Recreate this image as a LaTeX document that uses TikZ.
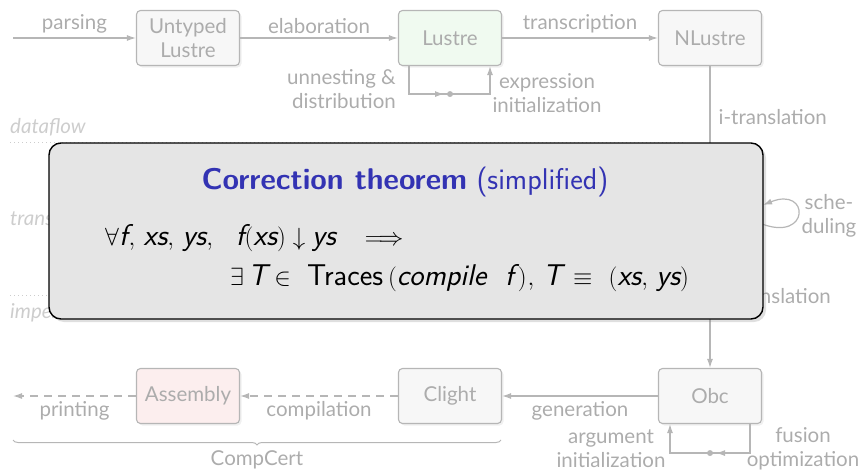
\documentclass[tikz,border=0pt]{standalone}
\usepackage{fontspec}
\setmainfont{Lato}
\usetikzlibrary{arrows.meta,shadows,decorations.pathreplacing,calc}
\definecolor{lbl}{RGB}{172,172,172}
\definecolor{faint}{RGB}{205,205,205}
\definecolor{edge}{RGB}{182,182,182}
\definecolor{boxfill}{RGB}{247,247,247}
\definecolor{greenfill}{RGB}{240,250,240}
\definecolor{pinkfill}{RGB}{252,238,238}
\definecolor{thmfill}{RGB}{229,229,229}
\definecolor{thmblue}{RGB}{51,51,179}
\newcommand\vv[1]{\textit{#1}}
\begin{document}
\begin{tikzpicture}[x=1pt,y=-1pt,
  labf/.style={font=\fontsize{20.5}{24}\selectfont},
  stage/.style={draw=edge, line width=1.1pt, rounded corners=4pt, fill=boxfill,
    minimum width=103pt, minimum height=55pt, align=center, text=lbl, labf,
    inner sep=2pt, drop shadow={opacity=0.12, shadow xshift=2pt, shadow yshift=-2pt}},
  lab/.style={text=lbl, labf, inner sep=2pt},
  side/.style={text=faint, font=\fontsize{20.5}{24}\selectfont\itshape, anchor=west, inner sep=0pt},
  ln/.style={draw=edge, line width=1.2pt},
  arr/.style={ln, -{Latex[length=9pt,width=6pt]}},
  dsh/.style={dash pattern=on 8pt off 6pt},
  thm/.style={draw=black, line width=1.4pt, rounded corners=12pt, fill=thmfill,
    minimum width=714pt, minimum height=176pt,
    drop shadow={opacity=0.25, shadow xshift=3pt, shadow yshift=-3pt}},
  thmtitlef/.style={font=\sffamily\fontsize{30}{34}\selectfont, inner sep=0pt},
  thmtxt/.style={font=\sffamily\fontsize{30}{34}\selectfont, inner sep=0pt}
]
\useasboundingbox (0,0) rectangle (859,471);

% layer labels
\node[side] (dataflow) at (10,127) {dataflow};
\node[side] (transys) at (10,218) {transition};
\node[side] (imper) at (10,313) {imperative};
\coordinate (d1a) at (10,142); \coordinate (d1b) at (683,142);
\coordinate (d2a) at (10,295); \coordinate (d2b) at (683,295);
\draw[faint, line width=1pt, dash pattern=on 1pt off 3pt] (d1a) -- (d1b);
\draw[faint, line width=1pt, dash pattern=on 1pt off 3pt] (d2a) -- (d2b);

% stages
\node[stage] (untyped) at (188,38) {Untyped\\Lustre};
\node[stage, fill=greenfill] (lustre) at (450,38) {Lustre};
\node[stage] (nlustre) at (710,38) {NLustre};
\node[stage] (stc) at (710,213) {Stc};
\node[stage] (obc) at (710,396) {Obc};
\node[stage] (clight) at (450,396) {Clight};
\node[stage, fill=pinkfill] (asm) at (188,396) {Assembly};
\coordinate (start) at (13,38);
\coordinate (finish) at (13,396);

% top row
\draw[arr] (start) -- node[lab, above=2pt] {parsing} (untyped);
\draw[arr] (untyped) -- node[lab, above=2pt] {elaboration} (lustre);
\draw[arr] (lustre) -- node[lab, above=2pt] {transcription} (nlustre);

% lustre loop
\coordinate (la) at ($(lustre.south)+(-41,0)$);
\coordinate (lb) at ($(lustre.south)+(40,0)$);
\coordinate (ldot) at ($(lustre.south)+(0,28)$);
\draw[ln] (la) |- (ldot);
\draw[arr] (la |- ldot) -- ($(ldot)+(-6,0)$);
\draw[arr] (ldot) -| (lb);
\fill[edge] (ldot) circle (3pt);
\node[lab, align=right, anchor=east] (unnest) at (398,89) {unnesting \&\\distribution};
\node[lab, align=center] (exprinit) at (547,93) {expression\\initialization};

% vertical chain
\draw[arr] (nlustre) -- node[lab, right=6pt, pos=0.43] {i-translation} (stc);
\draw[arr] (stc) -- node[lab, right=6pt, pos=0.43] {s-translation} (obc);
\coordinate (sl1) at ($(stc.east)+(0,11)$);
\coordinate (sl2) at ($(stc.east)+(1,-8)$);
\draw[arr] (sl1) .. controls (810,242) and (810,186) .. (sl2);
\node[lab, align=center] (sched) at (829,216) {sche-\\duling};

% bottom row
\draw[arr] (obc) -- node[lab, below=3pt] {generation} (clight);
\draw[arr, dsh] (clight) -- node[lab, below=3pt] {compilation} (asm);
\draw[arr, dsh] (asm) -- node[lab, below=3pt] {printing} (finish);

% obc loop
\coordinate (oa) at ($(obc.south)+(40,0)$);
\coordinate (ob) at ($(obc.south)+(-40,0)$);
\coordinate (odot) at ($(obc.south)+(0,29)$);
\draw[ln] (oa) |- (odot);
\draw[arr] (oa |- odot) -- ($(odot)+(6,0)$);
\draw[arr] (odot) -| (ob);
\fill[edge] (odot) circle (3pt);
\node[lab, align=center] (arginit) at (611,449) {argument\\initialization};
\node[lab, align=center] (fusion) at (803,449) {fusion\\optimization};

% brace
\coordinate (ba) at (13,440);
\coordinate (bb) at (501,440);
\draw[ln, line width=1pt, decorate, decoration={brace, mirror, amplitude=5pt}] (ba) -- (bb);
\node[lab] (compcert) at (257,460) {CompCert};

% theorem
\node[thm] (thmbox) at (406,231) {};
\node[thmtitlef, text=thmblue] (thmtitle) at (405,182) {\textbf{Correction theorem} (simplified)};
\node[thmtxt, anchor=base west] (thml1) at (105,245)
  {$\forall\vv{f}\kern1pt,\,\vv{xs},\,\vv{ys},\ \ \vv{f}(\vv{xs})\downarrow\vv{ys}\kern22pt\Longrightarrow$};
\node[thmtxt, anchor=base west] (thml2) at (230,285)
  {$\exists\,\vv{T}\in\ \textup{Traces}\kern5pt(\vv{compile}\ \ \vv{f}\,)\kern1pt,\,\vv{T}\,\equiv\ (\vv{xs},\,\vv{ys})$};
\end{tikzpicture}
\end{document}
